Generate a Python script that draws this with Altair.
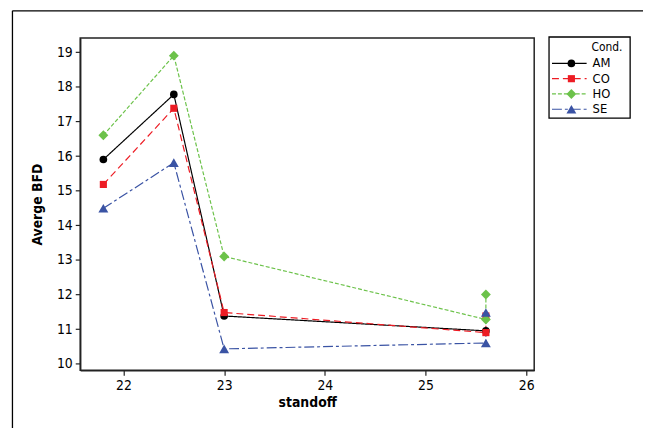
import altair as alt
import pandas as pd

# ---- data ----
conds = ["AM", "CO", "HO", "SE"]
standoff = [21.8, 22.5, 23.0, 25.6]
am = [15.9, 17.78, 11.38, 10.95]
co = [15.18, 17.38, 11.48, 10.9]
ho = [16.6, 18.9, 13.1, 11.28]
se = [14.49, 15.81, 10.43, 10.6]
# second observation at standoff 25.6 (drawn as a vertical step)
extra_x = 25.6
extra = {"AM": None, "CO": 11.38, "HO": 12.0, "SE": 11.48}

colors = ["#000000", "#ED1C24", "#6CC24A", "#3A53A4"]
shapes = ["circle", "square", "diamond", "triangle-up"]
dashes = [[1, 0], [7, 4], [4, 2], [10, 3, 3, 3]]
sizes = [60, 52, 100, 100]
x_ticks = [22, 23, 24, 25, 26]
y_ticks = [10, 11, 12, 13, 14, 15, 16, 17, 18, 19]

rows = []
for c, vals in zip(conds, [am, co, ho, se]):
    k = 0
    for x, v in zip(standoff, vals):
        rows.append({"standoff": x, "BFD": v, "Cond": c, "ord": k})
        k += 1
    if extra[c] is not None:
        rows.append({"standoff": extra_x, "BFD": extra[c], "Cond": c, "ord": k})
df = pd.DataFrame(rows)

W, H = 459, 336
FONT = "DejaVu Sans Condensed"

color = alt.Color("Cond:N", scale=alt.Scale(domain=conds, range=colors), legend=None)
dash = alt.StrokeDash("Cond:N", scale=alt.Scale(domain=conds, range=dashes), legend=None)
shape = alt.Shape("Cond:N", scale=alt.Scale(domain=conds, range=shapes), legend=None)
size = alt.Size("Cond:N", scale=alt.Scale(domain=conds, range=sizes, type="ordinal"), legend=None)

xenc = alt.X("standoff:Q", title="standoff",
             scale=alt.Scale(domain=[21.57, 26.08], nice=False, zero=False),
             axis=alt.Axis(values=x_ticks, grid=False, format="d"))
yenc = alt.Y("BFD:Q", title="Averge BFD",
             scale=alt.Scale(domain=[9.81, 19.41], nice=False, zero=False),
             axis=alt.Axis(values=y_ticks, grid=False, format="d"))

base = alt.Chart(df)
lines = base.mark_line(strokeWidth=1.2).encode(
    x=xenc, y=yenc, color=color, strokeDash=dash, order="ord:Q", detail="Cond:N")
points = base.mark_point(filled=True, opacity=1).encode(
    x=xenc, y=yenc, color=color, shape=shape, size=size)

main = alt.layer(lines, points)

# ---- legend drawn as its own small layer ----
leg_rows = []
for c in conds:
    leg_rows.append({"Cond": c, "lx": 0.0})
    leg_rows.append({"Cond": c, "lx": 1.0})
leg_df = pd.DataFrame(leg_rows)
lscale = alt.Scale(domain=[0, 1], range=[477, 512])
lx = alt.X("lx:Q", scale=lscale, axis=None)
ly = alt.Y("Cond:N", scale=alt.Scale(domain=conds, range=[25.7, 72], type="point", padding=0),
           axis=None)
leg_lines = alt.Chart(leg_df).mark_line(strokeWidth=1.2).encode(
    x=lx, y=ly, color=color, strokeDash=dash, detail="Cond:N")
leg_pts = alt.Chart(leg_df).transform_filter("datum.lx == 0").transform_calculate(mx="0.56").mark_point(
    filled=True, opacity=1).encode(
    x=alt.X("mx:Q", scale=lscale, axis=None),
    y=ly, color=color, shape=shape, size=size)
leg_text = alt.Chart(leg_df).transform_filter("datum.lx == 0").mark_text(
    align="left", baseline="middle", font=FONT, fontSize=13, color="black").encode(
    x=alt.value(518), y=ly, text="Cond:N")
legend = alt.layer(leg_lines, leg_pts, leg_text)

# decorations: legend box, legend title, outer frame
one = pd.DataFrame({"a": [0]})
box = alt.Chart(one).mark_rect(
    fill="white", stroke="black", strokeWidth=1.3).encode(
    x=alt.value(474), x2=alt.value(556), y=alt.value(-1), y2=alt.value(81))
title = alt.Chart(one).mark_text(
    align="left", baseline="middle", font=FONT, fontSize=12, color="black").encode(
    x=alt.value(517), y=alt.value(9.5), text=alt.value("Cond."))
frame_l = alt.Chart(one).mark_rule(color="black", strokeWidth=1.3).encode(
    x=alt.value(-68.5), y=alt.value(-27.5), y2=alt.value(H + 60))
frame_t = alt.Chart(one).mark_rule(color="black", strokeWidth=1.3).encode(
    x=alt.value(-68.5), x2=alt.value(W + 110), y=alt.value(-27.5))

chart = alt.layer(frame_l, frame_t, main, box, title, legend).resolve_scale(
    x="independent", y="independent"
).properties(
    width=W, height=H,
    autosize=alt.AutoSizeParams(type="none"),
    padding={"left": 73, "top": 28, "right": 110, "bottom": 60},
).configure_view(
    stroke="#222222", strokeWidth=1.5
).configure_axis(
    domainColor="#222222", domainWidth=1.5, tickColor="#222222", tickSize=5, tickWidth=1.2,
    labelFont=FONT, labelFontSize=14, labelColor="black", labelPadding=3,
    titleFont=FONT, titleFontSize=14, titleFontWeight="bold", titleColor="black",
).configure_axisY(titlePadding=12).configure_axisX(titlePadding=4)

chart.save("out.html", embed_options={"renderer": "svg", "actions": False})
